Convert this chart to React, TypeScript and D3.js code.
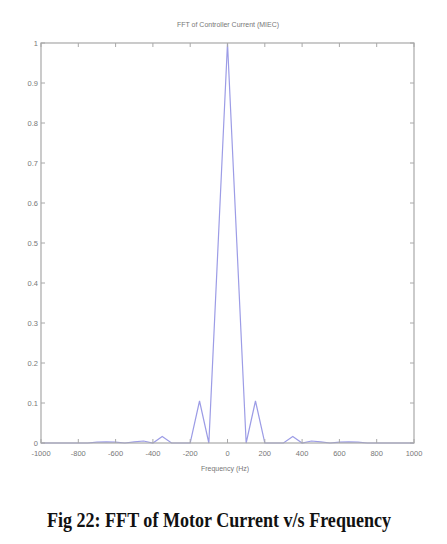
import React from "react";
import * as d3 from "d3";

const freqs = [-1000,-950,-900,-850,-800,-750,-700,-650,-600,-550,-500,-450,-400,-350,-300,-250,-200,-150,-100,-50,0,50,100,150,200,250,300,350,400,450,500,550,600,650,700,750,800,850,900,950,1000];
const mags = [0,0,0,0,0,0,0.002,0.003,0.002,0,0.003,0.005,0,0.016,0,0,0,0.105,0,0.5,1,0.5,0,0.105,0,0,0,0.016,0,0.005,0.003,0,0.002,0.003,0.002,0,0,0,0,0,0];
const xTicks = [-1000,-800,-600,-400,-200,0,200,400,600,800,1000];
const yTicks = [0,0.1,0.2,0.3,0.4,0.5,0.6,0.7,0.8,0.9,1];

export default function App() {
  const W = 447, H = 544;
  const L = 41, R = 414, T = 43, B = 443;
  const x = d3.scaleLinear().domain([-1000, 1000]).range([L, R]);
  const y = d3.scaleLinear().domain([0, 1]).range([B, T]);
  const pts: [number, number][] = freqs.map((f, i) => [f, mags[i]]);
  const line = d3.line<[number, number]>().x(d => x(d[0])).y(d => y(d[1]));
  const axisCol = "#a8a8a8";
  const txtCol = "#777";
  const tk = 4;
  return (
    <svg width={W} height={H} style={{ position: "absolute", left: 0, top: 0, background: "#fff" }}>
      <rect x={0} y={0} width={W} height={H} fill="#fff" />
      <text x={228} y={27} textAnchor="middle" fontFamily="Liberation Sans, Arial, sans-serif" fontSize={7} fill={txtCol}>FFT of Controller Current (MIEC)</text>
      <path d={line(pts) || ""} fill="none" stroke="#9c9ce6" strokeWidth={1.2} />
      <rect x={L} y={T} width={R - L} height={B - T} fill="none" stroke={axisCol} strokeWidth={1.2} />
      {xTicks.map(t => (
        <g key={"x" + t}>
          <line x1={x(t)} x2={x(t)} y1={B} y2={B - tk} stroke={axisCol} />
          <line x1={x(t)} x2={x(t)} y1={T} y2={T + tk} stroke={axisCol} />
          <text x={x(t)} y={456} textAnchor="middle" fontFamily="Liberation Sans, Arial, sans-serif" fontSize={7.5} fill={txtCol}>{t}</text>
        </g>
      ))}
      {yTicks.map(t => (
        <g key={"y" + t}>
          <line x1={L} x2={L + tk} y1={y(t)} y2={y(t)} stroke={axisCol} />
          <line x1={R} x2={R - tk} y1={y(t)} y2={y(t)} stroke={axisCol} />
          <text x={38} y={y(t) + 2.5} textAnchor="end" fontFamily="Liberation Sans, Arial, sans-serif" fontSize={7.5} fill={txtCol}>{t}</text>
        </g>
      ))}
      <text x={225} y={471} textAnchor="middle" fontFamily="Liberation Sans, Arial, sans-serif" fontSize={7} fill={txtCol}>Frequency (Hz)</text>
      <text x={219} y={527} textAnchor="middle" fontFamily="Liberation Serif, Times New Roman, serif" fontWeight="bold" fontSize={21} fill="#111" transform="translate(219 0) scale(0.86 1) translate(-219 0)">Fig 22: FFT of Motor Current v/s Frequency</text>
    </svg>
  );
}
